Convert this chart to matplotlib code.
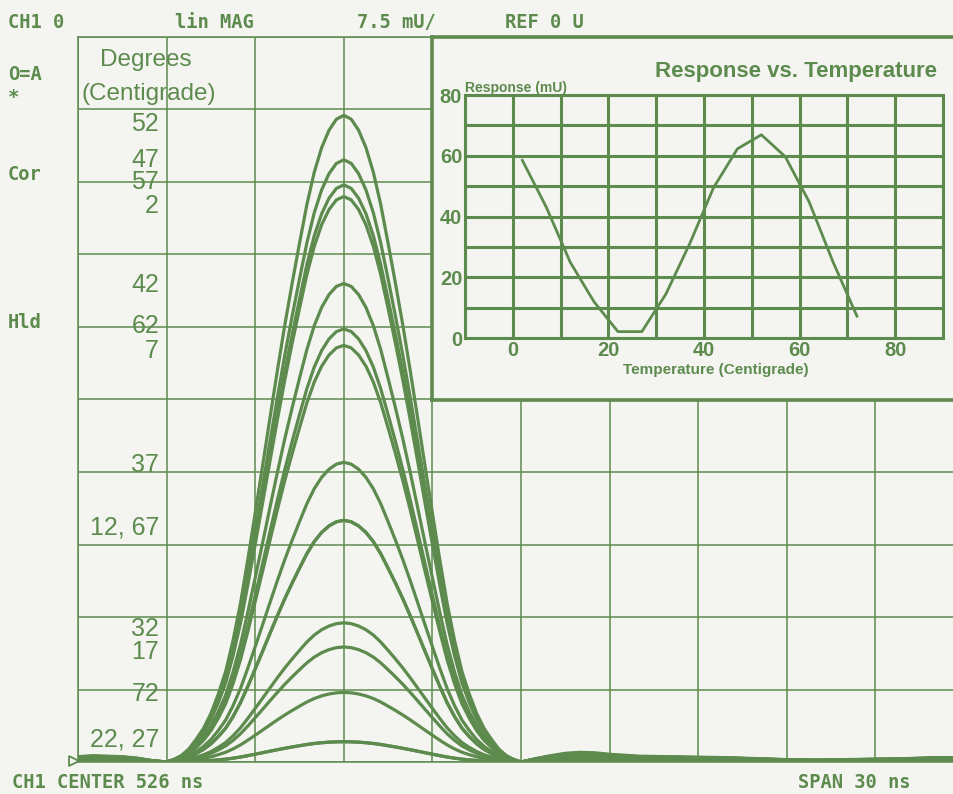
import numpy as np
import matplotlib.pyplot as plt

# peak response of the pulse at each temperature (mU)
temps = [2, 7, 12, 17, 22, 27, 32, 37, 42, 47, 52, 57, 62, 67, 72]
peak_mu = [58.5, 43.1, 25.0, 11.9, 2.1, 2.1, 14.4, 31.0, 49.5, 62.3, 66.9, 59.7, 44.8, 25.0, 7.2]

# pulse shape, normalised, one side of the peak in 0.25 ns steps (trace is symmetric)
pulse_half = [1.000, 0.994, 0.977, 0.950, 0.912, 0.862, 0.802, 0.740, 0.675,
              0.605, 0.532, 0.458, 0.385, 0.313, 0.245, 0.188, 0.140, 0.105,
              0.075, 0.052, 0.035, 0.020, 0.010, 0.004, 0.000]
pulse_step_ns = 0.25
peak_ns = 520.0

# baseline before the pulse and ringing after it, for the tallest trace (mU)
left_ns = [511.0, 511.5, 512.0, 512.5, 513.0, 513.5]
left_mu = [0.55, 0.65, 0.60, 0.55, 0.40, 0.15]
tail_ns = [526.5, 527.0, 527.5, 528.0, 528.5, 529.0, 530.0, 531.0, 532.0,
           533.0, 534.0, 535.0, 536.0, 537.0, 538.0, 539.0, 540.0, 541.0]
tail_mu = [0.35, 0.65, 0.90, 1.00, 0.95, 0.80, 0.60, 0.55, 0.50,
           0.45, 0.35, 0.25, 0.20, 0.25, 0.30, 0.35, 0.45, 0.45]

center_ns = 526
span_ns = 30
mu_per_div = 7.5

GREEN = '#5d8b4e'
BG = '#f4f5f1'
W, H = 954, 794


def fx(x):
    return x / W


def fy(y):
    return 1 - y / H


fig = plt.figure(figsize=(W / 100, H / 100), dpi=100, facecolor=BG)

# ---- main analyser display ----
ax = fig.add_axes([fx(78), fy(762), fx(886), 725 / H], facecolor=BG)
x0 = center_ns - span_ns / 2
ax.set_xlim(x0, x0 + span_ns)
ax.set_ylim(0, 10 * mu_per_div)
ax.set_xticks(np.arange(x0, x0 + span_ns + 0.1, span_ns / 10))
ax.set_yticks(np.arange(0, 10 * mu_per_div + 0.1, mu_per_div))
ax.grid(True, color=GREEN, lw=1.1)
ax.tick_params(length=0, labelbottom=False, labelleft=False)
for s in ax.spines.values():
    s.set_color(GREEN)
    s.set_linewidth(1.1)

half = np.array(pulse_half)
off = np.arange(len(half)) * pulse_step_ns
pulse_t = np.concatenate([peak_ns - off[::-1], peak_ns + off[1:]])
pulse_v = np.concatenate([half[::-1], half[1:]])
t_all = np.concatenate([left_ns, pulse_t, tail_ns])
top = max(peak_mu)
for amp in peak_mu:
    k = amp / top
    v_all = np.concatenate([np.array(left_mu) * k, pulse_v * amp, np.array(tail_mu) * k])
    ax.plot(t_all, v_all, color=GREEN, lw=2.3, solid_capstyle='round')

# reference marker on the left edge
ax.plot([x0 - 0.12], [0.1], marker='>', ms=7, mfc=BG, mec=GREEN, mew=1.3,
        clip_on=False)

# temperature labels next to each peak level (equal peaks share a label)
groups = {}
for t, p in zip(temps, peak_mu):
    groups.setdefault(p, []).append(t)
nudge_px = {52: 9, 47: 0, 57: -3, 2: 10, 42: 2, 62: -3, 7: 6, 37: 3,
            12: 7, 32: 6, 17: 5, 72: 2, 22: -2}
for p, ts in groups.items():
    txt = ', '.join(str(t) for t in ts)
    ax.annotate(txt, xy=(0.0915, p), xycoords=('axes fraction', 'data'),
                xytext=(0, -nudge_px[ts[0]] * 0.72), textcoords='offset points',
                ha='right', va='center', fontsize=18, color=GREEN,
                family='Liberation Sans')

fig.text(fx(146), fy(60), 'Degrees', ha='center', va='center', fontsize=17.5,
         color=GREEN, family='Liberation Sans')
fig.text(fx(149), fy(94), '(Centigrade)', ha='center', va='center', fontsize=17.5,
         color=GREEN, family='Liberation Sans')

# ---- inset: response vs temperature ----
frame = fig.add_axes([fx(432), fy(400), fx(600), 363 / H], facecolor=BG)
frame.set_xticks([])
frame.set_yticks([])
for s in frame.spines.values():
    s.set_color(GREEN)
    s.set_linewidth(2.6)

ax2 = fig.add_axes([fx(465), fy(338), fx(478), 243 / H], facecolor=BG)
ax2.set_xlim(-10, 90)
ax2.set_ylim(0, 80)
xt = np.arange(-10, 91, 10)
yt = np.arange(0, 81, 10)
ax2.set_xticks(xt)
ax2.set_xticklabels([str(v) if v % 20 == 0 and v >= 0 else '' for v in xt])
ax2.set_yticks(yt)
ax2.set_yticklabels([str(v) if v % 20 == 0 else '' for v in yt])
ax2.grid(True, color=GREEN, lw=2.2)
ax2.tick_params(length=0, pad=2, labelsize=14.5, labelcolor=GREEN)
for lab in ax2.get_xticklabels() + ax2.get_yticklabels():
    lab.set_family('Liberation Sans')
    lab.set_fontweight('bold')
for s in ax2.spines.values():
    s.set_color(GREEN)
    s.set_linewidth(2.2)
ax2.plot(temps, peak_mu, color=GREEN, lw=2.0, zorder=3)

fig.text(fx(465), fy(88), 'Response (mU)', ha='left', va='center', fontsize=10,
         color=GREEN, family='Liberation Sans', fontweight='bold')
fig.text(fx(937), fy(72), 'Response vs. Temperature', ha='right', va='center',
         fontsize=16, color=GREEN, family='Liberation Sans', fontweight='bold')
fig.text(fx(716), fy(370), 'Temperature (Centigrade)', ha='center', va='center',
         fontsize=11, color=GREEN, family='Liberation Sans', fontweight='bold')

# ---- analyser annotations ----
mono = dict(color=GREEN, family='DejaVu Sans Mono', fontweight='bold',
            fontsize=13.5, va='center', ha='left')
fig.text(fx(8), fy(22), 'CH1 0', **mono)
fig.text(fx(175), fy(22), 'lin MAG', **mono)
fig.text(fx(357), fy(22), '7.5 mU/', **mono)
fig.text(fx(505), fy(22), 'REF 0 U', **mono)
fig.text(fx(8), fy(75), 'O=A', **mono)
fig.text(fx(8), fy(97), '*', **mono)
fig.text(fx(8), fy(175), 'Cor', **mono)
fig.text(fx(8), fy(323), 'Hld', **mono)
fig.text(fx(12), fy(782), 'CH1 CENTER 526 ns', **mono)
fig.text(fx(798), fy(782), 'SPAN 30 ns', **mono)

fig.savefig('out.png', dpi=100, facecolor=BG)
